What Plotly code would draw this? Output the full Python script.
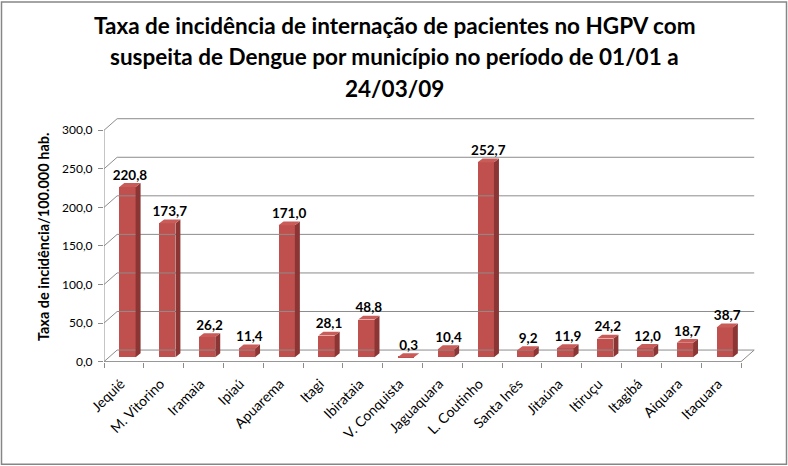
import plotly.graph_objects as go

# dados
municipios = ["Jequié", "M. Vitorino", "Iramaia", "Ipiaú", "Apuarema", "Itagi",
              "Ibirataia", "V. Conquista", "Jaguaquara", "L. Coutinho", "Santa Inês",
              "Jitaúna", "Itiruçu", "Itagibá", "Aiquara", "Itaquara"]
taxas = [220.8, 173.7, 26.2, 11.4, 171.0, 28.1, 48.8, 0.3, 10.4, 252.7,
         9.2, 11.9, 24.2, 12.0, 18.7, 38.7]
y_ticks = [0, 50, 100, 150, 200, 250, 300]
y_ticktext = ["0,0", "50,0", "100,0", "150,0", "200,0", "250,0", "300,0"]
titulo = ["Taxa de incidência de internação de pacientes no HGPV com",
          "suspeita de Dengue por município no período de 01/01 a",
          "24/03/09"]

FONT = "Lato"
GRID = "#8c8c8c"
RED, RED_SIDE, RED_TOP = "#c0504d", "#8b3634", "#c95b58"

n = len(municipios)
# profundidade do "piso" 3D e das barras (unidades de eixo)
dxF, dyF = 0.33, 15
bw, boff, base = 0.41, -0.116, 5.7
dxB, dyB = 0.125, 5

fig = go.Figure()

# parede de fundo / lateral: linhas de grade
gx, gy = [], []
for t in y_ticks:
    gx += [-0.5, -0.5 + dxF, n - 0.5 + dxF, None]
    gy += [t, t + dyF, t + dyF, None]
# piso: frente e diagonal direita, eixo vertical
gx += [-0.5, n - 0.5, n - 0.5 + dxF, None, -0.5, -0.5]
gy += [0, 0, dyF, None, 0, y_ticks[-1]]
fig.add_trace(go.Scatter(x=gx, y=gy, mode="lines", line=dict(color=GRID, width=1),
                         hoverinfo="skip", showlegend=False, cliponaxis=False))

# faces laterais e superiores das barras
sx, sy, tx, ty = [], [], [], []
for i, v in enumerate(taxas):
    l = i + boff
    r = l + bw
    top = base + v
    sx += [r, r + dxB, r + dxB, r, r, None]
    sy += [base, base + dyB, top + dyB, top, base, None]
    tx += [l, l + dxB, r + dxB, r, l, None]
    ty += [top, top + dyB, top + dyB, top, top, None]
fig.add_trace(go.Scatter(x=sx, y=sy, mode="lines", fill="toself", fillcolor=RED_SIDE,
                         line=dict(width=0, color=RED_SIDE), hoverinfo="skip", showlegend=False))
fig.add_trace(go.Scatter(x=tx, y=ty, mode="lines", fill="toself", fillcolor=RED_TOP,
                         line=dict(width=0, color=RED_TOP), hoverinfo="skip", showlegend=False))

# face frontal
fig.add_trace(go.Bar(x=list(range(n)), y=taxas, base=[base] * n, width=bw, offset=boff,
                     marker=dict(color=RED, line=dict(width=0)), showlegend=False))

# rótulos de dados
fig.add_trace(go.Scatter(
    x=[i + boff + (bw + dxB) / 2 for i in range(n)],
    y=[base + v + dyB for v in taxas],
    mode="text", text=[f"{v:.1f}".replace(".", ",") for v in taxas],
    textposition="top center",
    textfont=dict(family=FONT, size=13.5, color="black", weight="bold"),
    hoverinfo="skip", showlegend=False, cliponaxis=False))

plot_top, plot_bot = 110.7, 362.1
ph = plot_bot - plot_top
for k, linha in enumerate(titulo):
    fig.add_annotation(text=f"<b>{linha}</b>", xref="paper", yref="paper",
                       x=(394 - 104) / 653, y=(plot_bot - (25 + 31.5 * k)) / ph,
                       showarrow=False, xanchor="center", yanchor="middle",
                       font=dict(family=FONT, size=22.5, color="black"))
fig.add_annotation(text="<b>Taxa de incidência/100.000 hab.</b>", xref="paper", yref="paper",
                   x=(43 - 104) / 653, y=(plot_bot - 237) / ph, textangle=-90,
                   xanchor="center", yanchor="middle",
                   showarrow=False, font=dict(family=FONT, size=14.5, color="black"))

fig.add_shape(type="rect", xref="paper", yref="paper",
              x0=(1.5 - 104) / 653, x1=(786.5 - 104) / 653,
              y0=(plot_bot - 464.5) / ph, y1=(plot_bot - 1.5) / ph,
              line=dict(color="#868686", width=1.5))

fig.update_layout(
    width=788, height=466,
    margin=dict(l=104, r=31, t=110.7, b=466 - 362.1, pad=0),
    paper_bgcolor="white", plot_bgcolor="white",
    font=dict(family=FONT, color="black"),
    bargap=0,
    xaxis=dict(range=[-0.5, n - 0.5 + 0.4], tickmode="array",
               tickvals=[i - 0.08 for i in range(n)],
               ticktext=municipios, tickangle=-45, ticks="", showgrid=False,
               zeroline=False, showline=False, ticklabelstandoff=10,
               tickfont=dict(family=FONT, size=14, color="black"),
               minor=dict(tickmode="array", tickvals=[i - 0.5 for i in range(n + 1)],
                          ticks="outside", ticklen=5, tickcolor=GRID, showgrid=False)),
    yaxis=dict(range=[-0.5, 325], tickmode="array", tickvals=y_ticks, ticktext=y_ticktext,
               ticks="outside", ticklen=5, tickcolor=GRID, showgrid=False,
               zeroline=False, showline=False, ticklabelstandoff=3,
               tickfont=dict(family=FONT, size=12, color="black")),
)

fig.write_html("out.html", config={"displayModeBar": False},
               post_script="document.body.style.margin='0';")
